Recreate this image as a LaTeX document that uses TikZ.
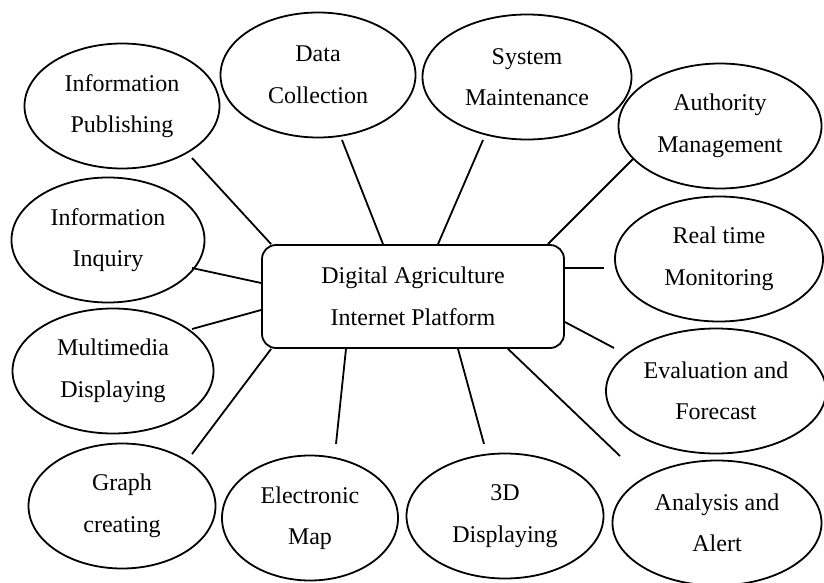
\documentclass[tikz,border=0pt]{standalone}
\usepackage{fontspec}
\setmainfont{Liberation Serif}
\usetikzlibrary{calc}
\usetikzlibrary{shapes.geometric}

\begin{document}
\begin{tikzpicture}[x=0.5pt, y=-0.5pt, line width=0.9pt,
    txt/.style={align=center, font=\fontsize{12}{20.75}\selectfont},
    bubble/.style={txt, draw, ellipse, inner sep=0pt, minimum height=62.5pt},
    hubbox/.style={txt, draw, rectangle, rounded corners=7pt, inner sep=0pt,
        minimum width=151pt, minimum height=51.5pt}]
    \useasboundingbox (0,0) rectangle (824,583);

    % 中心平台
    \node[hubbox] (hub) at (413,296.5) {Digital Agriculture\\Internet Platform};

    % 功能模块
    \foreach \n/\x/\y/\w/\t in {
        pub/122/106/195/{Information\\Publishing},
        data/318/75/195/{Data\\Collection},
        sys/527/77/209/{System\\Maintenance},
        auth/720/126/203/{Authority\\Management},
        real/719/259/208/{Real time\\Monitoring},
        eval/716/391/220/{Evaluation and\\Forecast},
        ana/717/523/209/{Analysis and\\Alert},
        thd/505/516/197/{3D\\Displaying},
        map/310/518/176/{Electronic\\Map},
        graph/122/506/187/{Graph\\creating},
        multi/113/371/201/{Multimedia\\Displaying},
        inq/108/240/193/{Information\\Inquiry}} {
        \node[bubble, minimum width=\w*0.5pt] (\n) at (\x,\y) {\t};
    }

    % 连线
    \draw ($(hub.north west)+(10,0)$) -- ($(pub)+(70,52)$);
    \draw ($(hub.north)+(-30,0)$) -- ($(data)+(24,65)$);
    \draw ($(hub.north)+(25,0)$) -- ($(sys)+(-44,63)$);
    \draw ($(hub.north east)+(-17,0)$) -- ($(auth)+(-87,33)$);
    \draw ($(hub.east)+(0,-28.5)$) -- ($(real)+(-115,9)$);
    \draw ($(hub.east)+(0,25.5)$) -- ($(eval)+(-102,-43)$);
    \draw ($(hub.south)+(95,0)$) -- ($(ana)+(-97,-67)$);
    \draw ($(hub.south)+(45,0)$) -- ($(thd)+(-21,-72)$);
    \draw ($(hub.south)+(-67,0)$) -- ($(map)+(26,-74)$);
    \draw ($(hub.south west)+(10,0)$) -- ($(graph)+(70,-52)$);
    \draw ($(hub.west)+(0,13.5)$) -- ($(multi)+(79,-42)$);
    \draw ($(hub.west)+(0,-13.5)$) -- ($(inq)+(84,28)$);
\end{tikzpicture}
\end{document}
